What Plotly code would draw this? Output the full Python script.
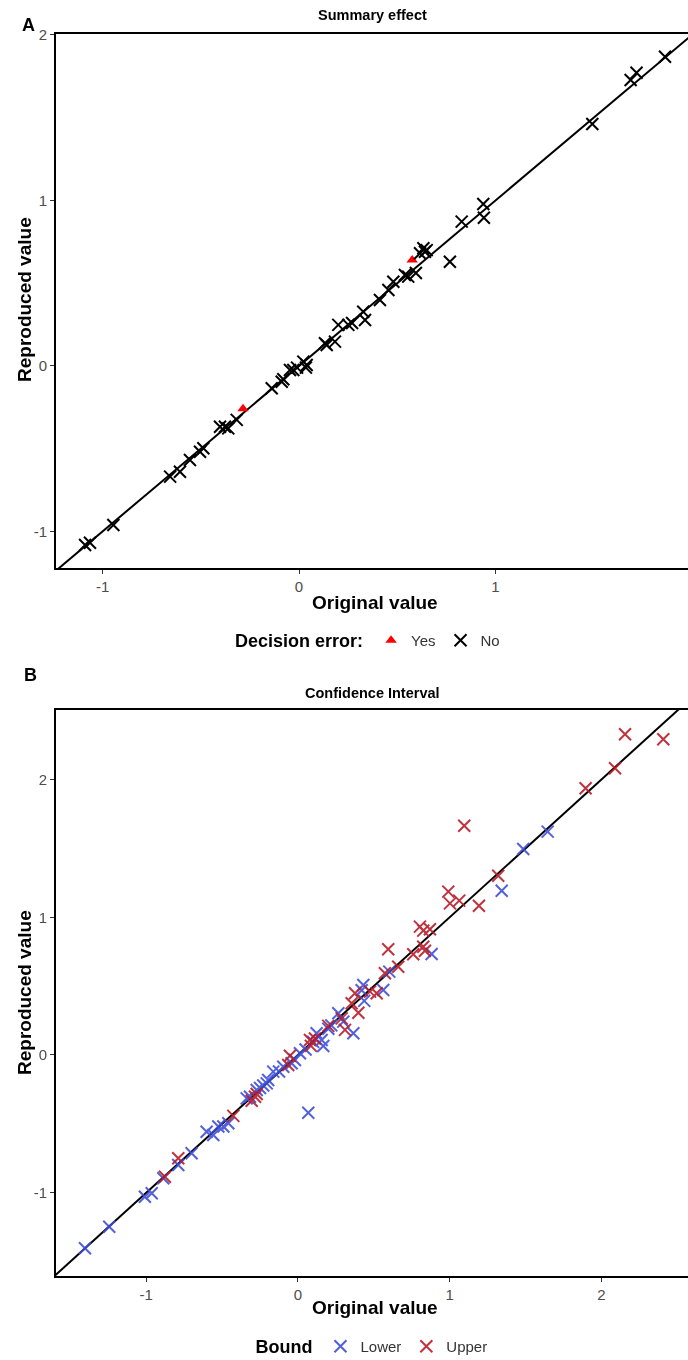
import plotly.graph_objects as go

# ---------------- Panel A: Summary effect ----------------
a_no_x = [1.863, 1.718, 1.688, 1.493, 0.938, 0.941, 0.828, 0.768, 0.650, 0.633, 0.616, 0.641,
          0.595, 0.556, 0.539, 0.480, 0.455, 0.412, 0.327, 0.336, 0.251, 0.270, 0.200, 0.183,
          0.141, 0.132, 0.039, 0.022, 0.035, -0.029, -0.046, -0.010, -0.088, -0.080, -0.139,
          -0.317, -0.360, -0.377, -0.402, -0.487, -0.504, -0.555, -0.606, -0.656, -0.945,
          -1.064, -1.089]
a_no_y = [1.869, 1.772, 1.728, 1.462, 0.979, 0.896, 0.872, 0.630, 0.700, 0.711, 0.681, 0.690,
          0.562, 0.540, 0.550, 0.509, 0.459, 0.399, 0.328, 0.278, 0.248, 0.260, 0.248, 0.147,
          0.127, 0.137, 0.006, 0.026, -0.010, -0.024, -0.024, -0.010, -0.095, -0.080, -0.135,
          -0.326, -0.377, -0.367, -0.367, -0.497, -0.518, -0.568, -0.639, -0.669, -0.961,
          -1.068, -1.082]
a_yes_x = [0.576, -0.285]
a_yes_y = [0.640, -0.258]

# ---------------- Panel B: Confidence Interval ----------------
b_low_x = [1.646, 1.485, 1.343, 0.881, 0.602, 0.562, 0.431, 0.420, 0.437, 0.266, 0.299, 0.365,
           0.156, 0.167, 0.123, 0.220, 0.200, 0.100, 0.050, 0.013, -0.020, -0.042, -0.097,
           -0.125, -0.163, -0.196, -0.206, -0.229, -0.250, -0.272, -0.316, -0.338, 0.068,
           -0.459, -0.492, -0.525, -0.558, -0.602, -0.701, -0.789, -0.888, -0.964, -1.009,
           -1.244, -1.404]
b_low_y = [1.622, 1.496, 1.193, 0.733, 0.605, 0.472, 0.508, 0.470, 0.393, 0.303, 0.242, 0.158,
           0.109, 0.065, 0.158, 0.215, 0.190, 0.095, 0.040, 0.012, -0.036, -0.060, -0.085,
           -0.120, -0.121, -0.182, -0.206, -0.222, -0.240, -0.254, -0.303, -0.315, -0.419,
           -0.496, -0.520, -0.520, -0.581, -0.557, -0.714, -0.799, -0.895, -1.004, -1.029,
           -1.247, -1.404]
b_up_x = [2.156, 2.408, 2.090, 1.896, 1.096, 1.320, 0.991, 1.002, 1.063, 1.193, 0.804, 0.826,
          0.870, 0.826, 0.595, 0.760, 0.837, 0.661, 0.573, 0.519, 0.475, 0.376, 0.354, 0.398,
          0.288, 0.200, 0.310, 0.112, 0.079, 0.085, -0.053, -0.064, -0.272, -0.305, -0.283,
          -0.426, -0.789, -0.877]
b_up_y = [2.329, 2.292, 2.082, 1.937, 1.665, 1.302, 1.186, 1.101, 1.121, 1.084, 0.932, 0.903,
          0.913, 0.786, 0.768, 0.731, 0.757, 0.641, 0.593, 0.448, 0.460, 0.448, 0.375, 0.307,
          0.266, 0.211, 0.182, 0.120, 0.109, 0.066, -0.006, -0.073, -0.284, -0.333, -0.303,
          -0.442, -0.750, -0.884]

tick_vals = [-1, 0, 1, 2]
tick_text = ["-1", "0", "1", "2"]
diag = [-3, 4]

W, H = 688, 1360
FONT = "Liberation Sans, Arial, sans-serif"
RED_B = "#b81c2a"
BLUE_B = "#3f4fd8"

fig = go.Figure()

def py(p):
    return 1 - p / H

# Panel A
fig.add_trace(go.Scatter(x=diag, y=diag, mode="lines", line=dict(color="black", width=2),
                         showlegend=False, hoverinfo="skip", xaxis="x", yaxis="y"))
fig.add_trace(go.Scatter(x=a_yes_x, y=a_yes_y, mode="markers", name="Yes",
                         marker=dict(symbol="triangle-up", color="#ff0000", size=10),
                         xaxis="x", yaxis="y", legend="legend"))
fig.add_trace(go.Scatter(x=a_no_x, y=a_no_y, mode="markers", name="No",
                         marker=dict(symbol="x-thin", size=12, line=dict(color="black", width=2)),
                         xaxis="x", yaxis="y", legend="legend"))

# Panel B
fig.add_trace(go.Scatter(x=diag, y=diag, mode="lines", line=dict(color="black", width=2),
                         showlegend=False, hoverinfo="skip", xaxis="x2", yaxis="y2"))
fig.add_trace(go.Scatter(x=b_low_x, y=b_low_y, mode="markers", name="Lower", opacity=0.9,
                         marker=dict(symbol="x-thin", size=12, line=dict(color=BLUE_B, width=2)),
                         xaxis="x2", yaxis="y2", legend="legend2"))
fig.add_trace(go.Scatter(x=b_up_x, y=b_up_y, mode="markers", name="Upper", opacity=0.9,
                         marker=dict(symbol="x-thin", size=12, line=dict(color=RED_B, width=2)),
                         xaxis="x2", yaxis="y2", legend="legend2"))

axis_common = dict(showgrid=False, zeroline=False, showline=True, linecolor="black", linewidth=2,
                   ticks="outside", ticklen=4, tickwidth=1, tickcolor="#333333", automargin=False,
                   tickvals=tick_vals, ticktext=tick_text,
                   tickfont=dict(family=FONT, size=15, color="#4d4d4d"))

xdom = [56 / W, 1.0]
fig.update_layout(
    width=W, height=H, margin=dict(l=0, r=0, t=0, b=0, autoexpand=False),
    paper_bgcolor="white", plot_bgcolor="white",
    font=dict(family=FONT),
    xaxis=dict(domain=xdom, range=[-1.237, 1.98], mirror=True, anchor="y", **axis_common),
    yaxis=dict(domain=[py(568), py(34)], range=[-1.221, 2.006], anchor="x", **axis_common),
    xaxis2=dict(domain=xdom, range=[-1.595, 2.571], mirror=True, anchor="y2", **axis_common),
    yaxis2=dict(domain=[py(1276), py(710)], range=[-1.605, 2.505], anchor="x2", **axis_common),
    legend=dict(orientation="h", x=369 / W, xanchor="center", y=py(641), yanchor="middle",
                title=dict(text="<b>Decision error:</b>", side="left",
                           font=dict(family=FONT, size=18, color="black")),
                font=dict(family=FONT, size=15, color="#333333"), bgcolor="rgba(0,0,0,0)"),
    legend2=dict(orientation="h", x=373 / W, xanchor="center", y=py(1347), yanchor="middle",
                 title=dict(text="<b>Bound</b>", side="left",
                            font=dict(family=FONT, size=18, color="black")),
                 font=dict(family=FONT, size=15, color="#333333"), bgcolor="rgba(0,0,0,0)"),
)

ann = []
def text(x, y, s, size, bold=True, angle=0, color="black", xanchor="center"):
    ann.append(dict(x=x / W, y=py(y), xref="paper", yref="paper", text=f"<b>{s}</b>" if bold else s,
                    showarrow=False, textangle=angle, xanchor=xanchor, yanchor="middle",
                    font=dict(family=FONT, size=size, color=color)))

text(372, 15, "Summary effect", 14.5)
text(372, 693, "Confidence Interval", 14.5)
text(20, 25, "A", 18, xanchor="left")
text(22, 675, "B", 18, xanchor="left")
text(24, 300, "Reproduced value", 19, angle=-90)
text(24, 993, "Reproduced value", 19, angle=-90)
text(375, 602, "Original value", 19)
text(375, 1307, "Original value", 19)
fig.update_layout(annotations=ann)

fig.write_html("out.html")
